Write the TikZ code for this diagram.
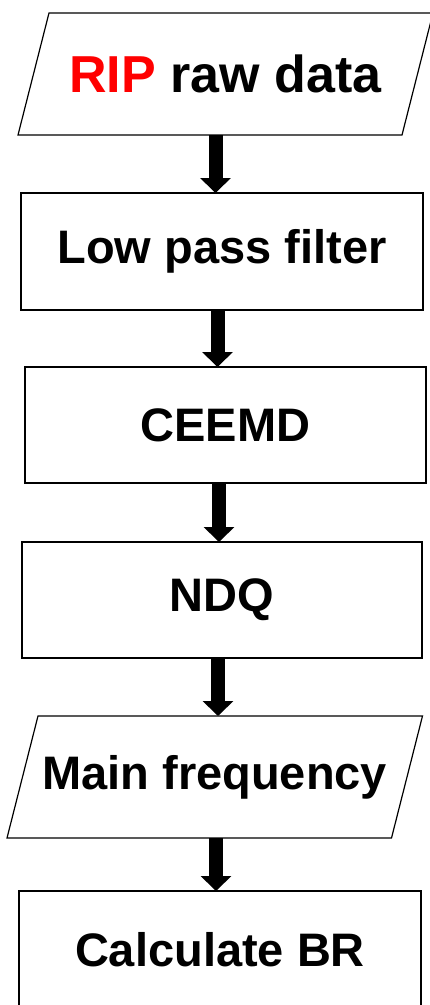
\documentclass[tikz,border=0pt]{standalone}
\usepackage{fontspec}
\setmainfont{Liberation Sans}
\usetikzlibrary{arrows.meta}
\definecolor{ripred}{RGB}{255,0,0}
\tikzset{
  box/.style={draw=black, line width=1.2pt, rectangle, inner sep=0pt, outer sep=0pt,
    font=\fontsize{47}{56}\selectfont\bfseries, text=black},
  pbox/.style={rectangle, inner sep=0pt, outer sep=0pt,
    font=\fontsize{47}{56}\selectfont\bfseries, text=black},
  pline/.style={draw=black, line width=1.2pt, line join=miter},
  fat/.style={draw=black, line width=14pt, line cap=butt,
    -{Triangle[width=30pt,length=15pt]}}
}
\begin{document}
\begin{tikzpicture}[x=1pt,y=1pt]
\useasboundingbox (0,0) rectangle (429,-1005);
% input parallelogram
\node[pbox, minimum width=384pt, minimum height=122pt] (p1) at (225.5,-74)
  {\fontsize{52}{60}\selectfont\bfseries\textcolor{ripred}{RIP} raw data};
\draw[pline] ([xshift=15.5pt]p1.north west) -- ([xshift=15.5pt]p1.north east)
  -- ([xshift=-15.5pt]p1.south east) -- ([xshift=-15.5pt]p1.south west) -- cycle;
% boxes
\node[box, minimum width=402pt, minimum height=117pt] (b2) at (222,-251.5) {Low pass filter};
\node[box, minimum width=401pt, minimum height=116pt] (b3) at (225.5,-425) {CEEMD};
\node[box, minimum width=400pt, minimum height=116pt] (b4) at (222,-600) {NDQ};
% main frequency parallelogram
\node[pbox, minimum width=384.5pt, minimum height=122pt] (p5) at (214.75,-777) {Main frequency};
\draw[pline] ([xshift=15.5pt]p5.north west) -- ([xshift=15.5pt]p5.north east)
  -- ([xshift=-15.5pt]p5.south east) -- ([xshift=-15.5pt]p5.south west) -- cycle;
\node[box, minimum width=402pt, minimum height=117pt] (b6) at (220,-949.5) {Calculate BR};
% arrow x positions
\coordinate (ax1) at (215.5,0);
\coordinate (ax2) at (217.5,0);
\coordinate (ax3) at (219,0);
\coordinate (ax4) at (218,0);
\coordinate (ax5) at (216,0);
\draw[fat] (p1.south -| ax1) -- (b2.north -| ax1);
\draw[fat] (b2.south -| ax2) -- (b3.north -| ax2);
\draw[fat] (b3.south -| ax3) -- (b4.north -| ax3);
\draw[fat] (b4.south -| ax4) -- (p5.north -| ax4);
\draw[fat] (p5.south -| ax5) -- (b6.north -| ax5);
\end{tikzpicture}
\end{document}
